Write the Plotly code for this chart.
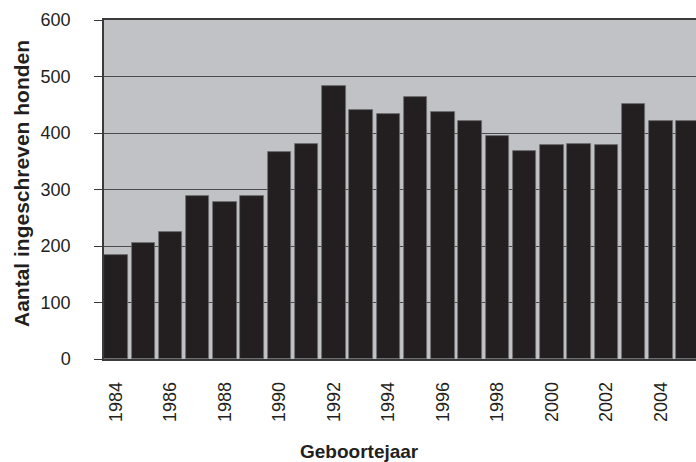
import plotly.graph_objects as go

years = list(range(1984, 2006))
counts = [184, 205, 224, 288, 277, 288, 367, 380, 484, 440, 434, 464,
          437, 421, 394, 368, 378, 380, 378, 451, 421, 421]
tick_years = list(range(1984, 2005, 2))
y_ticks = [0, 100, 200, 300, 400, 500, 600]

W, H = 696, 462
L, R, T, B = 104, 0, 20, 103
pw, ph = W - L - R, H - T - B

fig = go.Figure()
fig.add_trace(go.Bar(
    x=years, y=counts, width=0.86,
    marker=dict(color="#231f20", line=dict(color="#6e6e70", width=0.8)),
))

font_fam = "Liberation Sans, Arial, Helvetica, sans-serif"
fig.update_layout(
    width=W, height=H,
    margin=dict(l=L, r=R, t=T, b=B, pad=0),
    paper_bgcolor="white", plot_bgcolor="#c1c2c6",
    showlegend=False, bargap=0,
    font=dict(family=font_fam, size=18, color="#231f20"),
    xaxis=dict(
        range=[1983.56, 2005.29], tickvals=tick_years,
        ticktext=[str(v) for v in tick_years],
        tickangle=-90, ticks="", ticklabelstandoff=14,
        showgrid=False, zeroline=False,
        showline=True, linecolor="#3a3a3a", linewidth=1.5, mirror=True,
        tickfont=dict(size=18),
    ),
    yaxis=dict(
        range=[0, 600], tickvals=y_ticks,
        ticks="outside", ticklen=8, tickcolor="#3a3a3a", tickwidth=1,
        ticklabelstandoff=20,
        showgrid=True, gridcolor="#4a4a4c", gridwidth=1,
        zeroline=False, showline=True, linecolor="#3a3a3a", linewidth=1.5,
        tickfont=dict(size=18),
    ),
    annotations=[
        dict(text="<b>Geboortejaar</b>", xref="paper", yref="paper",
             x=(359 - L) / pw, y=-(451 - (T + ph)) / ph,
             xanchor="center", yanchor="middle", showarrow=False,
             font=dict(size=19, color="#231f20")),
        dict(text="<b>Aantal ingeschreven honden</b>", xref="paper", yref="paper",
             x=(21 - L) / pw, y=(T + ph - 184) / ph, textangle=-90,
             xanchor="center", yanchor="middle", showarrow=False,
             font=dict(size=21, color="#231f20")),
    ],
)

fig.write_html(
    "out.html",
    config={"displayModeBar": False},
    post_script="document.body.style.margin='0';document.body.style.overflow='hidden';",
)
